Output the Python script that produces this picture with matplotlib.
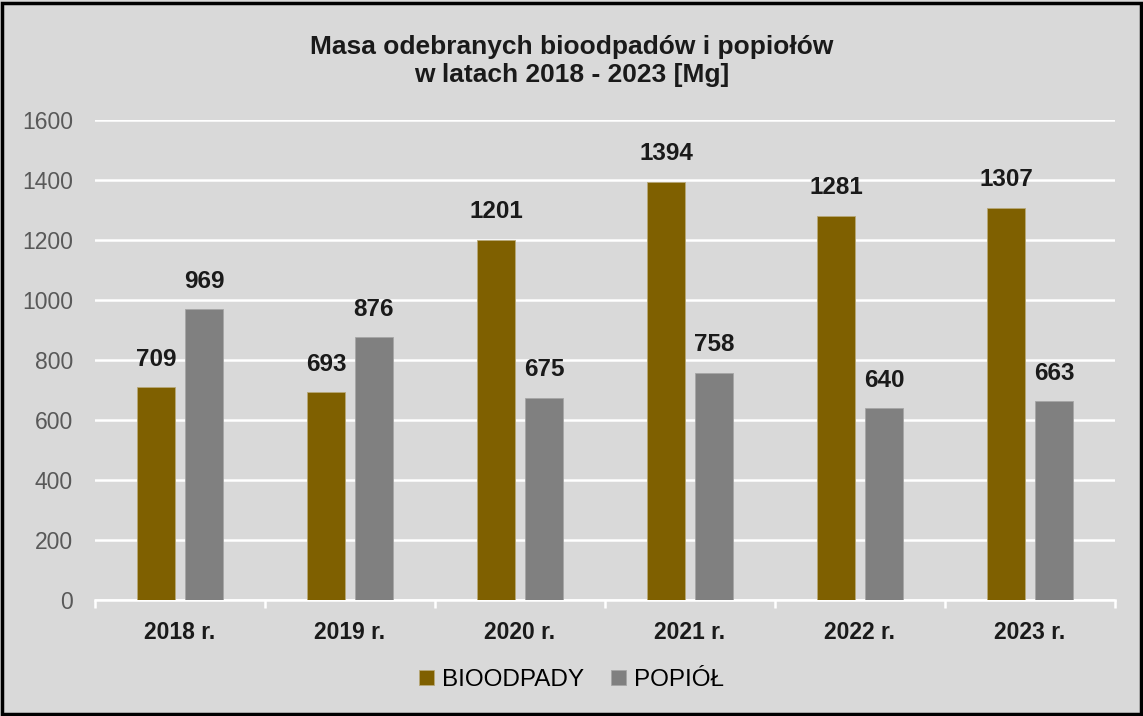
import numpy as np
import matplotlib.pyplot as plt
from matplotlib.patches import Rectangle

years = ['2018 r.', '2019 r.', '2020 r.', '2021 r.', '2022 r.', '2023 r.']
bioodpady = [709, 693, 1201, 1394, 1281, 1307]
popiol = [969, 876, 675, 758, 640, 663]

plt.rcParams['font.family'] = ['Liberation Sans', 'DejaVu Sans']

bg = '#d9d9d9'
fig = plt.figure(figsize=(11.43, 7.16), dpi=100, facecolor=bg)
ax = fig.add_axes([0.0831, 0.162, 0.8924, 0.6704])
ax.set_facecolor(bg)

index = np.arange(len(years))
bar_width = 0.224
offset = 0.141

b1 = ax.bar(index - offset, bioodpady, bar_width, color='#7f6000',
            edgecolor='#b8a878', linewidth=0.6, label='BIOODPADY', zorder=3)
b2 = ax.bar(index + offset, popiol, bar_width, color='#808080',
            edgecolor='#a6a6a6', linewidth=0.6, label='POPIÓŁ', zorder=3)

for rects, vals in ((b1, bioodpady), (b2, popiol)):
    for r, v in zip(rects, vals):
        ax.text(r.get_x() + r.get_width() / 2, v + 55, str(v),
                ha='center', va='bottom', fontsize=17.5, fontweight='bold',
                color='#1a1a1a')

ax.set_xlim(-0.5, len(years) - 0.5)
ax.set_ylim(0, 1600)
ax.set_yticks(np.arange(0, 1601, 200))
ax.yaxis.grid(True, color='white', linewidth=1.8, zorder=0)
ax.set_axisbelow(True)
ax.tick_params(axis='y', length=0, labelsize=16.5, labelcolor='#595959', pad=16)
ax.set_xticks(index)
ax.set_xticklabels(years, fontsize=16.5, fontweight='bold', color='#1a1a1a')
ax.set_xticks(np.arange(-0.5, len(years)), minor=True)
ax.tick_params(axis='x', which='major', length=0, pad=15)
ax.tick_params(axis='x', which='minor', length=6, width=1.8, color='white')
for s in ['top', 'right', 'left']:
    ax.spines[s].set_visible(False)
ax.spines['bottom'].set_color('white')
ax.spines['bottom'].set_linewidth(1.8)

fig.text(0.5, 0.915, 'Masa odebranych bioodpadów i popiołów\nw latach 2018 - 2023 [Mg]',
         ha='center', va='center', fontsize=19, fontweight='bold',
         color='#1a1a1a', linespacing=1.2)

fig.legend(handles=[b1, b2], loc='center', bbox_to_anchor=(0.5, 0.05),
           ncol=2, frameon=False, fontsize=17.5, handlelength=0.6,
           handleheight=0.6, columnspacing=1.1, handletextpad=0.35)

fig.patches.append(Rectangle((0.002, 0.003), 0.996, 0.993, transform=fig.transFigure,
                             fill=False, edgecolor='black', linewidth=2.5))

fig.savefig('out.png', dpi=100, facecolor=bg)
